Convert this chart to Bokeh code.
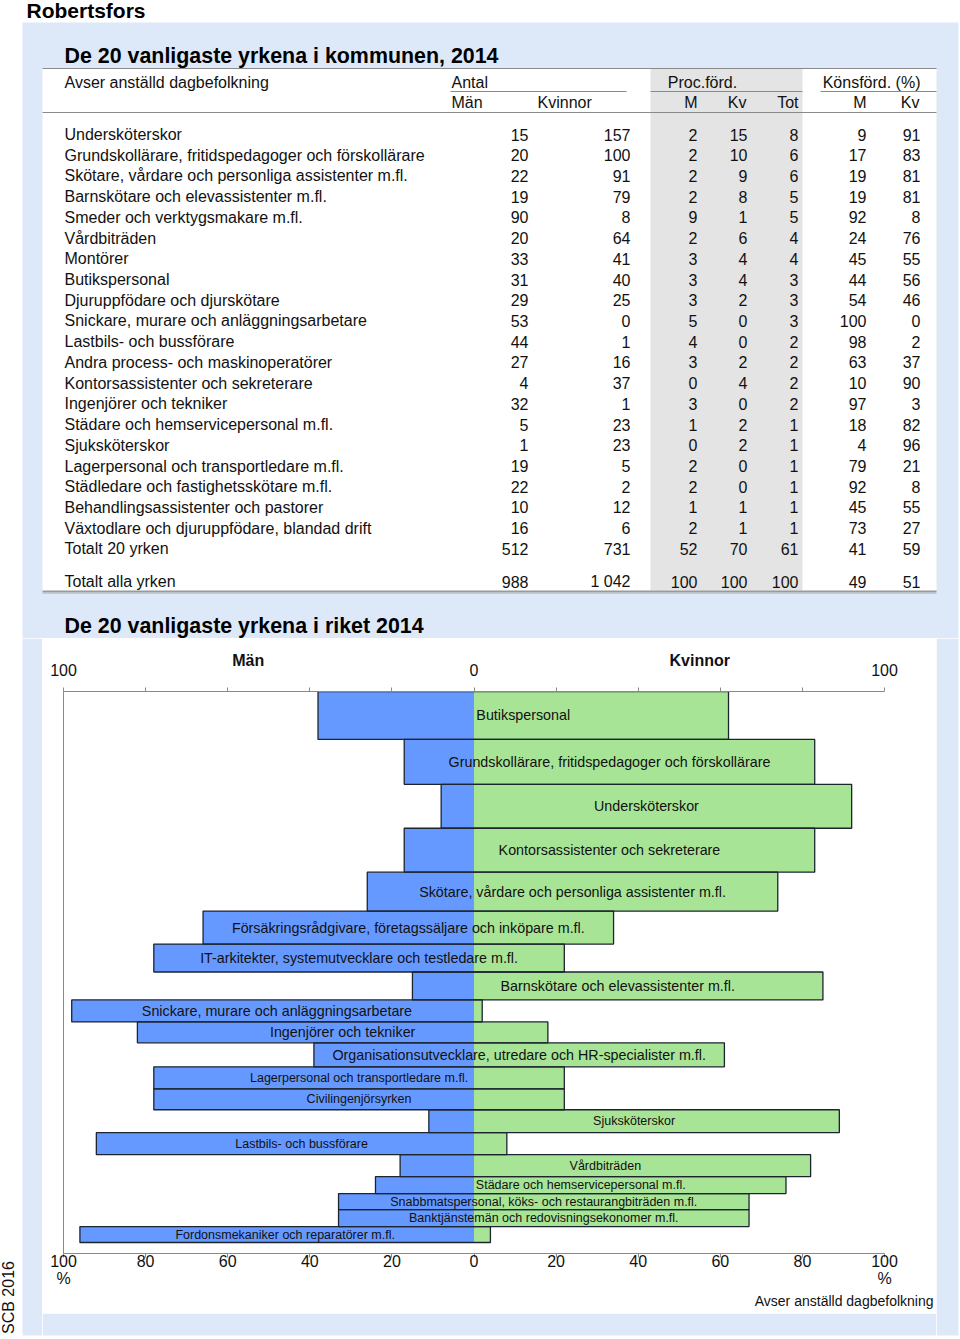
import numpy as np
from bokeh.plotting import figure
from bokeh.models import Range1d, LinearAxis, FixedTicker, ColumnDataSource, Title
from bokeh.layouts import column, row
from bokeh.embed import file_html
from bokeh.resources import INLINE
from bokeh.core.properties import value

# ------------------------------------------------------------------ data
# Table: De 20 vanligaste yrkena i kommunen, 2014 (Robertsfors)
occupations = [
    "Undersköterskor",
    "Grundskollärare, fritidspedagoger och förskollärare",
    "Skötare, vårdare och personliga assistenter m.fl.",
    "Barnskötare och elevassistenter m.fl.",
    "Smeder och verktygsmakare m.fl.",
    "Vårdbiträden",
    "Montörer",
    "Butikspersonal",
    "Djuruppfödare och djurskötare",
    "Snickare, murare och anläggningsarbetare",
    "Lastbils- och bussförare",
    "Andra process- och maskinoperatörer",
    "Kontorsassistenter och sekreterare",
    "Ingenjörer och tekniker",
    "Städare och hemservicepersonal m.fl.",
    "Sjuksköterskor",
    "Lagerpersonal och transportledare m.fl.",
    "Städledare och fastighetsskötare m.fl.",
    "Behandlingsassistenter och pastorer",
    "Växtodlare och djuruppfödare, blandad drift",
]
antal_man = [15, 20, 22, 19, 90, 20, 33, 31, 29, 53, 44, 27, 4, 32, 5, 1, 19, 22, 10, 16]
antal_kvinnor = [157, 100, 91, 79, 8, 64, 41, 40, 25, 0, 1, 16, 37, 1, 23, 23, 5, 2, 12, 6]
proc_m = [2, 2, 2, 2, 9, 2, 3, 3, 3, 5, 4, 3, 0, 3, 1, 0, 2, 2, 1, 2]
proc_kv = [15, 10, 9, 8, 1, 6, 4, 4, 2, 0, 0, 2, 4, 0, 2, 2, 0, 0, 1, 1]
proc_tot = [8, 6, 6, 5, 5, 4, 4, 3, 3, 3, 2, 2, 2, 2, 1, 1, 1, 1, 1, 1]
kons_m = [9, 17, 19, 19, 92, 24, 45, 44, 54, 100, 98, 63, 10, 97, 18, 4, 79, 92, 45, 73]
kons_kv = [91, 83, 81, 81, 8, 76, 55, 56, 46, 0, 2, 37, 90, 3, 82, 96, 21, 8, 55, 27]

total_labels = ["Totalt 20 yrken", "Totalt alla yrken"]
total_man = [512, 988]
total_kvinnor = [731, 1042]
total_proc_m = [52, 100]
total_proc_kv = [70, 100]
total_proc_tot = [61, 100]
total_kons_m = [41, 49]
total_kons_kv = [59, 51]

# Chart: De 20 vanligaste yrkena i riket 2014
riket_occ = [
    "Butikspersonal",
    "Grundskollärare, fritidspedagoger och förskollärare",
    "Undersköterskor",
    "Kontorsassistenter och sekreterare",
    "Skötare, vårdare och personliga assistenter m.fl.",
    "Försäkringsrådgivare, företagssäljare och inköpare m.fl.",
    "IT-arkitekter, systemutvecklare och testledare m.fl.",
    "Barnskötare och elevassistenter m.fl.",
    "Snickare, murare och anläggningsarbetare",
    "Ingenjörer och tekniker",
    "Organisationsutvecklare, utredare och HR-specialister m.fl.",
    "Lagerpersonal och transportledare m.fl.",
    "Civilingenjörsyrken",
    "Sjuksköterskor",
    "Lastbils- och bussförare",
    "Vårdbiträden",
    "Städare och hemservicepersonal m.fl.",
    "Snabbmatspersonal, köks- och restaurangbiträden m.fl.",
    "Banktjänstemän och redovisningsekonomer m.fl.",
    "Fordonsmekaniker och reparatörer m.fl.",
]
riket_man_pct = [38, 17, 8, 17, 26, 66, 78, 15, 98, 82, 39, 78, 78, 11, 92, 18, 24, 33, 33, 96]
riket_kv_pct = [62, 83, 92, 83, 74, 34, 22, 85, 2, 18, 61, 22, 22, 89, 8, 82, 76, 67, 67, 4]
# relative number employed (bar thickness)
riket_size = [48, 45, 44, 44, 39, 33, 28, 28, 22, 21, 24, 22, 21, 23, 22, 22, 17, 16, 17, 16]

axis_ticks = [-100, -80, -60, -40, -20, 0, 20, 40, 60, 80, 100]

# ------------------------------------------------------------------ styles
FONT = "Liberation Sans"
BG = "#dde9f9"
GREYBAND = "#e4e4e4"
LINE = "#8a8a8a"
TXT = "#111111"
BLUE = "#6699ff"
GREEN = "#a8e496"
EDGE = "#1c2430"
label_sizes = ["14.3px"] * 11 + ["12.5px"] * 9


def canvas(w, h, x0, y0):
    f = figure(width=w, height=h, x_range=Range1d(x0, x0 + w), y_range=Range1d(y0 + h, y0),
               x_axis_location=None, y_axis_location=None, toolbar_location=None,
               output_backend="svg", min_border=0, outline_line_color=None,
               background_fill_color="white", border_fill_color="white")
    f.grid.visible = False
    return f


def fmt(v):
    return f"{v:,}".replace(",", " ")


def txt(f, **kw):
    kw.setdefault("text_font", value(FONT))
    kw.setdefault("text_font_size", "16px")
    kw.setdefault("text_color", TXT)
    kw.setdefault("text_baseline", "middle")
    f.text(**kw)


# ------------------------------------------------------------------ top part (table)
T = canvas(960, 638, 0, 0)
T.quad(left=22, right=958, top=22, bottom=638, fill_color=BG, line_color=None)
T.quad(left=42, right=936, top=68, bottom=591, fill_color="white", line_color=None)
T.quad(left=650, right=802, top=68, bottom=590, fill_color=GREYBAND, line_color=None)
T.segment(x0=[42, 450, 650, 820, 42], y0=[68, 91, 91, 91, 112],
          x1=[936, 626, 802, 936, 936], y1=[68, 91, 91, 91, 112],
          line_color=LINE, line_width=1)
T.segment(x0=[42], y0=[591], x1=[936], y1=[591], line_color="#9a9a9a", line_width=2)
T.segment(x0=[42], y0=[593], x1=[936], y1=[593], line_color="#c4ccd6", line_width=1)

txt(T, x=[26], y=[9.5], text=["Robertsfors"], text_font_size="21px",
    text_font_style="bold", text_color="#000000")
txt(T, x=[64], y=[55], text=["De 20 vanligaste yrkena i kommunen, 2014"],
    text_font_size="21.4px", text_font_style="bold", text_color="#000000")
txt(T, x=[64], y=[625], text=["De 20 vanligaste yrkena i riket 2014"],
    text_font_size="21.4px", text_font_style="bold", text_color="#000000")

txt(T, x=[64, 451, 537], y=[82, 82, 102], text=["Avser anställd dagbefolkning", "Antal", "Kvinnor"])
txt(T, x=[451], y=[102], text=["Män"])
txt(T, x=[702], y=[82], text=["Proc.förd."], text_align="center")
txt(T, x=[920], y=[82], text=["Könsförd. (%)"], text_align="right")
txt(T, x=[697, 746, 798, 866, 919], y=[102] * 5, text=["M", "Kv", "Tot", "M", "Kv"],
    text_align="right")

row_y = 134 + 20.72 * np.arange(len(occupations))
tot_y = [134 + 20.72 * len(occupations), 581]
col_right = [528, 630, 697, 747, 798, 866, 920]

txt(T, x=64, y=row_y, text=occupations)
txt(T, x=64, y=tot_y, text=total_labels)
for cx, vals, tvals in zip(col_right,
                           [antal_man, antal_kvinnor, proc_m, proc_kv, proc_tot, kons_m, kons_kv],
                           [total_man, total_kvinnor, total_proc_m, total_proc_kv, total_proc_tot,
                            total_kons_m, total_kons_kv]):
    txt(T, x=cx, y=row_y, text=[fmt(v) for v in vals], text_align="right")
    txt(T, x=cx, y=tot_y, text=[fmt(v) for v in tvals], text_align="right")

# ------------------------------------------------------------------ chart
W, H = 894, 675
mb_l, mb_r, mb_t, mb_b = 21, 52, 53, 60
frame_h = H - mb_t - mb_b
pad_bottom_px = 11
total_size = float(sum(riket_size))
y_start = total_size * frame_h / (frame_h - pad_bottom_px)

C = figure(width=W, height=H, x_range=Range1d(-100, 100), y_range=Range1d(y_start, 0),
           x_axis_location=None, y_axis_location=None, toolbar_location=None,
           output_backend="svg", min_border_left=mb_l, min_border_right=mb_r,
           min_border_top=mb_t, min_border_bottom=mb_b, outline_line_color=None,
           background_fill_color="white", border_fill_color="white")
C.grid.visible = False

size = np.array(riket_size, dtype=float)
bottoms = np.cumsum(size)
tops = bottoms - size
m = np.array(riket_man_pct, dtype=float)
k = np.array(riket_kv_pct, dtype=float)
src = ColumnDataSource(dict(top=tops, bottom=bottoms, left=-m, right=k,
                            mid=(tops + bottoms) / 2, lx=(k - m) / 2,
                            label=riket_occ, fs=label_sizes))
C.quad(left="left", right=0, top="top", bottom="bottom", source=src,
       fill_color=BLUE, line_color=None)
C.quad(left=0, right="right", top="top", bottom="bottom", source=src,
       fill_color=GREEN, line_color=None)
C.quad(left="left", right="right", top="top", bottom="bottom", source=src,
       fill_color=None, line_color=EDGE, line_width=1.3)
C.text(x="lx", y="mid", text="label", source=src, text_font=value(FONT),
       text_font_size="fs", text_align="center", text_baseline="middle", text_color=TXT)


def style_axis(ax, size="16px"):
    ax.major_label_text_font = FONT
    ax.major_label_text_font_size = size
    ax.major_label_text_color = TXT
    ax.axis_line_color = LINE
    ax.major_tick_line_color = LINE
    ax.minor_tick_line_color = None
    ax.major_tick_in = 0
    ax.major_tick_out = 4
    return ax


top_ax = style_axis(LinearAxis(ticker=FixedTicker(ticks=axis_ticks)))
top_ax.major_label_overrides = {t: (str(abs(t)) if t in (-100, 0, 100) else "") for t in axis_ticks}
top_ax.major_label_standoff = 12
C.add_layout(top_ax, "above")

sex_ax = style_axis(LinearAxis(ticker=FixedTicker(ticks=[-55, 55])))
sex_ax.major_label_overrides = {-55: "Män", 55: "Kvinnor"}
sex_ax.major_label_text_font_style = "bold"
sex_ax.axis_line_color = None
sex_ax.major_tick_line_color = None
sex_ax.major_tick_out = 0
sex_ax.major_label_standoff = -8
C.add_layout(sex_ax, "above")

bot_ax = style_axis(LinearAxis(ticker=FixedTicker(ticks=axis_ticks)))
bot_ax.major_label_overrides = {t: str(abs(t)) for t in axis_ticks}
bot_ax.major_label_standoff = -3
C.add_layout(bot_ax, "below")

pct_ax = style_axis(LinearAxis(ticker=FixedTicker(ticks=[-100, 100])))
pct_ax.major_label_overrides = {-100: "%", 100: "%"}
pct_ax.axis_line_color = None
pct_ax.major_tick_line_color = None
pct_ax.major_tick_out = 0
pct_ax.major_label_standoff = 0
C.add_layout(pct_ax, "below")

left_ax = style_axis(LinearAxis(ticker=FixedTicker(ticks=[])))
left_ax.major_tick_out = 0
left_ax.major_label_text_font_size = "0px"
C.add_layout(left_ax, "left")

note = Title(text="Avser anställd dagbefolkning", align="right", text_font=FONT,
             text_font_size="14px", text_font_style="normal", text_color=TXT,
             offset=-49, standoff=2)
C.add_layout(note, "below")

# ------------------------------------------------------------------ frame strips
L = canvas(42, 701, 0, 638)
L.quad(left=22, right=42, top=638, bottom=1335, fill_color=BG, line_color=None)
txt(L, x=[8], y=[1297], text=["SCB 2016"], text_font_size="16px", angle=np.pi / 2,
    text_align="center")

B = canvas(894, 26, 42, 1313)
B.quad(left=42, right=936, top=1313, bottom=1335, fill_color=BG, line_color=None)

R = canvas(24, 701, 936, 638)
R.quad(left=936, right=958, top=638, bottom=1335, fill_color=BG, line_color=None)

layout = column(T, row(L, column(C, row(B)), R))

open("out.html", "w").write(file_html(layout, INLINE))
